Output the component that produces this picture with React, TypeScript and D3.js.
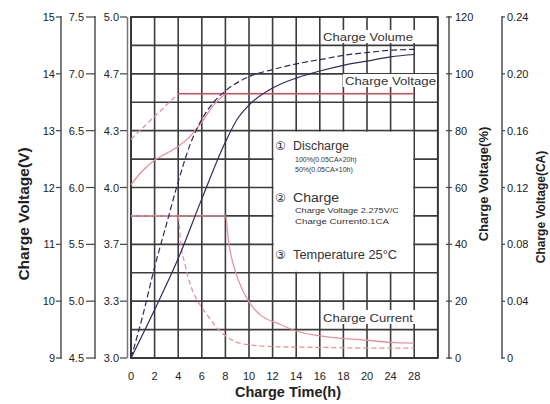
import React from 'react';
import * as d3 from 'd3';

const W = 550;
const H = 404;

// ---- tick data ----
const timeTicks = [0, 2, 4, 6, 8, 10, 12, 14, 16, 18, 20, 24, 28];
const gridHours = [0, 2, 4, 6, 8, 10, 12, 14, 16, 18, 20, 24, 28, 32];
const voltTicksA = [9, 10, 11, 12, 13, 14, 15];
const voltLabelsB = ['4.5', '5.0', '5.5', '6.0', '6.5', '7.0', '7.5'];
const voltLabelsC = ['3.0', '3.3', '3.7', '4.0', '4.3', '4.7', '5.0'];
const pctTicks = [0, 20, 40, 60, 80, 100, 120];
const caTicks = [0, 0.04, 0.08, 0.12, 0.16, 0.2, 0.24];
const caLabels = ['0', '0.04', '0.08', '0.12', '0.16', '0.20', '0.24'];

// ---- series ----
// charge voltage (V) after 100% discharge
const volt100Hours = [0, 1, 2, 3, 4, 5, 6, 7, 8];
const volt100 = [12.05, 12.3, 12.48, 12.6, 12.72, 12.9, 13.15, 13.45, 13.65];
// charge voltage (V) after 50% discharge
const volt50Hours = [0, 1, 2, 3, 4];
const volt50 = [12.85, 13.05, 13.25, 13.45, 13.65];
// constant charge voltage
const voltFlatHours = [4, 28];
const voltFlat = [13.65, 13.65];

// charge volume (%)
const vol100Hours = [0, 2, 4, 6, 8, 9, 10, 12, 14, 16, 18, 20, 24, 28];
const vol100 = [0, 17, 35, 56, 76, 84, 89, 95, 98.5, 101, 103, 104.5, 106, 106.8];
const vol50Hours = [0, 1, 2, 3, 4, 5, 6, 7, 8, 10, 12, 14, 16, 18, 20, 24, 28];
const vol50 = [0, 15, 32, 47, 62, 75, 84, 90, 94, 99, 101.5, 103.5, 105, 106.5, 107.5, 108.3, 108.6];

// charge current (CA)
const cur100Hours = [0, 8, 8.3, 8.8, 9.5, 10.3, 11, 12.4, 14, 16, 20, 24, 28];
const cur100 = [0.1, 0.1, 0.08, 0.062, 0.047, 0.036, 0.03, 0.0245, 0.019, 0.0155, 0.0125, 0.011, 0.0105];
const cur50Hours = [0, 4, 4.2, 4.6, 5.1, 5.8, 6.4, 7.2, 8.1, 9, 10.3, 12, 16, 20, 28];
const cur50 = [0.1, 0.1, 0.082, 0.065, 0.05, 0.038, 0.031, 0.022, 0.015, 0.011, 0.009, 0.008, 0.0075, 0.007, 0.007];

const FONT = '"Liberation Sans", Arial, sans-serif';

export default function App() {
  const x0 = 131;
  const cw = 23.6;
  const top = 17;
  const bottom = 358;
  const x = d3.scaleLinear().domain([0, 20, 32]).range([x0, x0 + 10 * cw, x0 + 13 * cw]);
  const yV = d3.scaleLinear().domain([9, 15]).range([bottom, top]);
  const yP = d3.scaleLinear().domain([0, 120]).range([bottom, top]);
  const yC = d3.scaleLinear().domain([0, 0.24]).range([bottom, top]);
  const right = x(32);

  const mk = (hs: number[], vs: number[], y: d3.ScaleLinear<number, number>) =>
    d3.line<number>().x((_, i) => x(hs[i])).y((v) => y(v)).curve(d3.curveMonotoneX)(vs) || '';

  const hLines = d3.range(9, 15.01, 0.5);

  const boxX1 = x(12), boxX2 = x(28), boxY1 = yV(13), boxY2 = yV(10.5);

  const redDark = '#dd4458';
  const redLight = '#e9909c';
  const navy = '#2c2c5c';
  const grid = '#3c3c3c';

  return (
    <svg width={W} height={H} style={{ position: 'absolute', left: 0, top: 0, background: '#fff' }} fontFamily={FONT}>
      <rect x={0} y={0} width={W} height={H} fill="#fff" />
      {/* grid */}
      {gridHours.map((h) => (
        <line key={'v' + h} x1={x(h)} x2={x(h)} y1={top} y2={bottom} stroke={grid} strokeWidth={1.6} />
      ))}
      {hLines.map((v) => (
        <line key={'h' + v} x1={x0} x2={right} y1={yV(v)} y2={yV(v)} stroke={grid} strokeWidth={1.6} />
      ))}
      <line x1={127.5} x2={127.5} y1={top} y2={bottom} stroke="#777" strokeWidth={1.5} />
      <rect x={x0} y={top} width={right - x0} height={bottom - top} fill="none" stroke="#333" strokeWidth={1.8} />

      {/* info box */}
      <rect x={boxX1 + 1} y={boxY1 + 1} width={boxX2 - boxX1 - 2} height={boxY2 - boxY1 - 2} fill="#fff" />

      {/* labels with white background */}
      <rect x={321} y={30} width={94} height={13} fill="#fff" />
      <text x={368} y={41} fontSize={11.5} textAnchor="middle" fill="#333" textLength={90} lengthAdjust="spacingAndGlyphs">Charge Volume</text>
      <rect x={343} y={74} width={right - 344} height={13} fill="#fff" />
      <text x={345} y={85} fontSize={11.5} fill="#333" textLength={91} lengthAdjust="spacingAndGlyphs">Charge Voltage</text>
      <rect x={321} y={310} width={94} height={14} fill="#fff" />
      <text x={368} y={322} fontSize={11.5} textAnchor="middle" fill="#333" textLength={90} lengthAdjust="spacingAndGlyphs">Charge Current</text>

      {/* curves */}
      <path d={mk(cur100Hours, cur100, yC)} fill="none" stroke={redLight} strokeWidth={1.3} />
      <path d={mk(cur50Hours, cur50, yC)} fill="none" stroke={redLight} strokeWidth={1.3} strokeDasharray="5,3" />
      <path d={mk(volt100Hours, volt100, yV)} fill="none" stroke={redLight} strokeWidth={1.3} />
      <path d={mk(volt50Hours, volt50, yV)} fill="none" stroke={redLight} strokeWidth={1.3} strokeDasharray="5,3" />
      <path d={mk(voltFlatHours, voltFlat, yV)} fill="none" stroke={redDark} strokeWidth={1.4} />
      <path d={mk(vol100Hours, vol100, yP)} fill="none" stroke={navy} strokeWidth={1.2} />
      <path d={mk(vol50Hours, vol50, yP)} fill="none" stroke={navy} strokeWidth={1.2} strokeDasharray="6,3" />

      {/* info text */}
      <g fill="#333">
        <text x={275} y={150} fontSize={12} fontFamily='"DejaVu Sans", sans-serif'>①</text>
        <text x={293} y={150} fontSize={12} textLength={56} lengthAdjust="spacingAndGlyphs">Discharge</text>
        <text x={295} y={162} fontSize={7}>100%(0.05CA×20h)</text>
        <text x={295} y={172} fontSize={7}>50%(0.05CA×10h)</text>
        <text x={275} y={202} fontSize={12} fontFamily='"DejaVu Sans", sans-serif'>②</text>
        <text x={293} y={202} fontSize={12} textLength={46} lengthAdjust="spacingAndGlyphs">Charge</text>
        <text x={295} y={213} fontSize={7.5} textLength={104} lengthAdjust="spacingAndGlyphs">Charge Voltage 2.275V/C</text>
        <text x={295} y={224} fontSize={7.5} textLength={94} lengthAdjust="spacingAndGlyphs">Charge Current0.1CA</text>
        <text x={275} y={259} fontSize={12} fontFamily='"DejaVu Sans", sans-serif'>③</text>
        <text x={293} y={259} fontSize={12} textLength={104} lengthAdjust="spacingAndGlyphs">Temperature 25°C</text>
      </g>

      {/* left axes */}
      {[61, 95].map((ax) => (
        <line key={'la' + ax} x1={ax} x2={ax} y1={top - 1} y2={bottom + 1} stroke="#444" strokeWidth={1.4} />
      ))}
      {voltTicksA.map((v, i) => (
        <g key={'lt' + v}>
          <line x1={56} x2={61} y1={yV(v)} y2={yV(v)} stroke="#444" strokeWidth={1.2} />
          <text x={55} y={yV(v) + 4} fontSize={11} textAnchor="end" fill="#222">{v}</text>
          <line x1={86} x2={95} y1={yV(v)} y2={yV(v)} stroke="#444" strokeWidth={1.2} />
          <text x={84} y={yV(v) + 4} fontSize={11} textAnchor="end" fill="#222">{voltLabelsB[i]}</text>
          <line x1={120} x2={127} y1={yV(v)} y2={yV(v)} stroke="#444" strokeWidth={1.2} />
          <text x={119} y={yV(v) + 4} fontSize={11} textAnchor="end" fill="#222">{voltLabelsC[i]}</text>
        </g>
      ))}

      {/* right axes */}
      <line x1={449} x2={449} y1={top - 1} y2={bottom + 1} stroke="#444" strokeWidth={1.4} />
      {pctTicks.map((p) => (
        <g key={'rp' + p}>
          <line x1={446} x2={452} y1={yP(p)} y2={yP(p)} stroke="#444" strokeWidth={1.2} />
          <text x={455} y={yP(p) + 4} fontSize={11} fill="#222">{p}</text>
        </g>
      ))}
      <line x1={502} x2={502} y1={top - 1} y2={bottom + 1} stroke="#444" strokeWidth={1.4} />
      {caTicks.map((c, i) => (
        <g key={'rc' + c}>
          <line x1={502} x2={505} y1={yC(c)} y2={yC(c)} stroke="#444" strokeWidth={1.2} />
          <text x={507} y={yC(c) + 4} fontSize={11} fill="#222">{caLabels[i]}</text>
        </g>
      ))}

      {/* x ticks */}
      {timeTicks.map((t) => (
        <text key={'xt' + t} x={x(t)} y={380} fontSize={11} textAnchor="middle" fill="#222">{t}</text>
      ))}

      {/* titles */}
      <text x={288} y={397} fontSize={14.5} fontWeight="bold" textAnchor="middle" fill="#222">Charge Time(h)</text>
      <text transform="translate(29,214) rotate(-90)" fontSize={15.5} fontWeight="bold" textAnchor="middle" fill="#222">Charge Voltage(V)</text>
      <text transform="translate(488,184) rotate(-90)" fontSize={13} fontWeight="bold" textAnchor="middle" fill="#222">Charge Voltage(%)</text>
      <text transform="translate(545,207) rotate(-90)" fontSize={12} fontWeight="bold" textAnchor="middle" fill="#222">Charge Voltage(CA)</text>
    </svg>
  );
}
